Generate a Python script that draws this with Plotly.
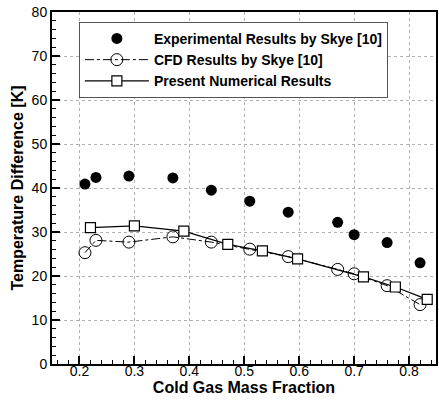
import plotly.graph_objects as go

exp_x = [0.21, 0.23, 0.29, 0.37, 0.44, 0.51, 0.58, 0.67, 0.70, 0.76, 0.82]
exp_y = [40.9, 42.4, 42.7, 42.3, 39.5, 37.0, 34.5, 32.2, 29.4, 27.6, 23.0]

cfd_x = [0.21, 0.23, 0.29, 0.37, 0.44, 0.51, 0.58, 0.67, 0.70, 0.76, 0.82]
cfd_y = [25.3, 28.1, 27.7, 28.9, 27.7, 26.1, 24.4, 21.5, 20.5, 17.8, 13.5]

num_x = [0.22, 0.30, 0.39, 0.47, 0.533, 0.597, 0.717, 0.775, 0.833]
num_y = [31.0, 31.4, 30.2, 27.2, 25.7, 23.9, 19.8, 17.5, 14.7]

x_ticks = [0.2, 0.3, 0.4, 0.5, 0.6, 0.7, 0.8]
y_ticks = [0, 10, 20, 30, 40, 50, 60, 70, 80]

FONT = "Liberation Sans, Arial"

fig = go.Figure()
fig.add_trace(go.Scatter(
    x=exp_x, y=exp_y, mode="markers", name="Experimental Results by Skye [10]",
    marker=dict(symbol="circle", size=11, color="black")))
fig.add_trace(go.Scatter(
    x=cfd_x, y=cfd_y, mode="lines+markers", name="CFD Results by Skye [10]",
    line=dict(color="black", width=1, dash="dashdot"),
    marker=dict(symbol="circle-open", size=12, color="black", line=dict(width=1))))
fig.add_trace(go.Scatter(
    x=num_x, y=num_y, mode="lines+markers", name="Present Numerical Results",
    line=dict(color="black", width=1.3),
    marker=dict(symbol="square", size=10, color="white", line=dict(color="black", width=1.2))))

axis_common = dict(
    showline=True, linecolor="black", linewidth=2, mirror=True,
    ticks="inside", ticklen=8, tickwidth=2, tickcolor="black",
    showgrid=True, gridcolor="#b0b0b0", griddash="dot", gridwidth=1,
    zeroline=False,
    tickfont=dict(family=FONT, size=14, color="black"),
)

fig.update_xaxes(
    range=[0.15, 0.849], tickvals=x_ticks, ticktext=[str(v) for v in x_ticks],
    ticklabelstandoff=-7,
    minor=dict(dtick=0.02, ticks="inside", ticklen=4, tickwidth=1, tickcolor="black", showgrid=False),
    title=dict(text="<b>Cold Gas Mass Fraction</b>", standoff=0,
               font=dict(family=FONT, size=16, color="black")),
    **axis_common)
fig.update_yaxes(
    range=[0, 80], tickvals=y_ticks,
    minor=dict(dtick=2, ticks="inside", ticklen=4, tickwidth=1, tickcolor="black", showgrid=False),
    title=dict(text="<b>Temperature Difference [K]</b>", standoff=4,
               font=dict(family=FONT, size=16, color="black")),
    **axis_common)

fig.update_layout(
    width=439, height=400,
    margin=dict(l=52, r=1, t=12, b=36),
    plot_bgcolor="white", paper_bgcolor="white",
    showlegend=True,
    legend=dict(
        x=0.07, y=0.972, xanchor="left", yanchor="top",
        bgcolor="white", bordercolor="#555555", borderwidth=1,
        font=dict(family=FONT, size=14, color="black", weight="bold"),
        tracegroupgap=0, itemwidth=64,
    ),
)

fig.write_html("out.html")
